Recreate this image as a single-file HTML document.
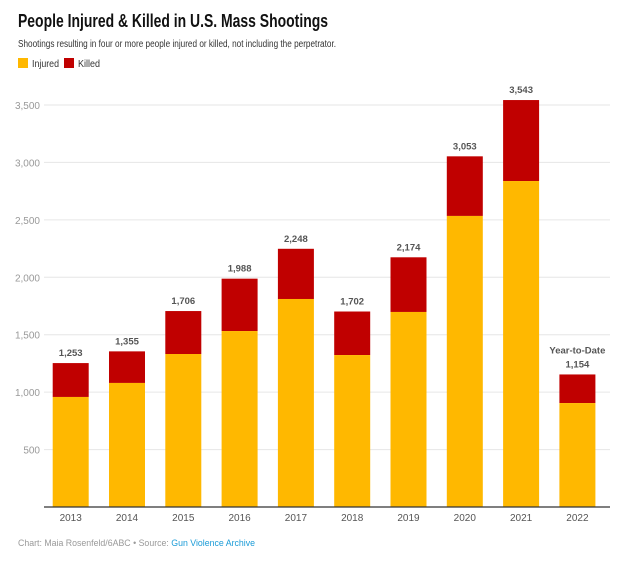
<!DOCTYPE html>
<html><head><meta charset="utf-8"><style>
body{margin:0;background:#fff;font-family:"Liberation Sans",sans-serif;}
</style></head><body>
<svg width="640" height="563" xmlns="http://www.w3.org/2000/svg" id="svg">
<text x="18" y="27" font-size="18" font-weight="bold" fill="#111" textLength="310" lengthAdjust="spacingAndGlyphs">People Injured &amp; Killed in U.S. Mass Shootings</text>
<text x="18" y="47" font-size="10" fill="#333" textLength="318" lengthAdjust="spacingAndGlyphs">Shootings resulting in four or more people injured or killed, not including the perpetrator.</text>
<g>
<rect x="18" y="58" width="10" height="10" fill="#ffb800"/>
<text x="32" y="67" font-size="10" fill="#333" textLength="27" lengthAdjust="spacingAndGlyphs">Injured</text>
<rect x="64" y="58" width="10" height="10" fill="#c00000"/>
<text x="78" y="67" font-size="10" fill="#333" textLength="22" lengthAdjust="spacingAndGlyphs">Killed</text>
</g>
<g id="grid"></g><g id="bars"></g>
<line x1="44" x2="610" y1="507" y2="507" stroke="#333" stroke-width="1.2"/>
<text x="18" y="546" font-size="9.5" fill="#999" textLength="237" lengthAdjust="spacingAndGlyphs">Chart: Maia Rosenfeld/6ABC • Source: <tspan fill="#1a9bd7">Gun Violence Archive</tspan></text>
</svg>
<script>
const years=["2013","2014","2015","2016","2017","2018","2019","2020","2021","2022"];
const injured=[958,1080,1332,1532,1811,1323,1698,2534,2838,905];
const totals=[1253,1355,1706,1988,2248,1702,2174,3053,3543,1154];
const ticks=[500,1000,1500,2000,2500,3000,3500];
const NS="http://www.w3.org/2000/svg";
const y=v=>507-v*0.11486;
const xc=i=>70.7+i*56.3;
const bw=36;
const grid=document.getElementById('grid'),bars=document.getElementById('bars');
function mk(tag,attrs,parent,text){const e=document.createElementNS(NS,tag);for(const k in attrs)e.setAttribute(k,attrs[k]);if(text!==undefined)e.textContent=text;parent.appendChild(e);return e;}
ticks.forEach(t=>{
 const l=mk('line',{x1:44,x2:610,y1:y(t),y2:y(t),stroke:'#e6e6e6'},grid);
 
 
 const tx=mk('text',{x:40,y:y(t)+4,'font-size':10,fill:'#999','text-anchor':'end'},grid,t.toLocaleString('en-US'));
 
 
});
years.forEach((yr,i)=>{
 const x=xc(i)-bw/2;
 const k=mk('rect',{x:x,y:y(totals[i]),width:bw,height:y(injured[i])-y(totals[i]),fill:'#c00000'},bars);
 
 
 const r=mk('rect',{x:x,y:y(injured[i]),width:bw,height:507-y(injured[i]),fill:'#ffb800'},bars);
 
 
 const v=mk('text',{x:xc(i),y:y(totals[i])-7,'font-size':9.5,'font-weight':'bold',fill:'#555','text-anchor':'middle'},bars,totals[i].toLocaleString('en-US'));
 
 
 const xl=mk('text',{x:xc(i),y:521,'font-size':10,fill:'#555','text-anchor':'middle'},bars,yr);
 
 
});
const ytd=mk('text',{x:xc(9),y:y(totals[9])-21,'font-size':9.5,'font-weight':'bold',fill:'#555','text-anchor':'middle'},bars,'Year-to-Date');


</script>
</body></html>
